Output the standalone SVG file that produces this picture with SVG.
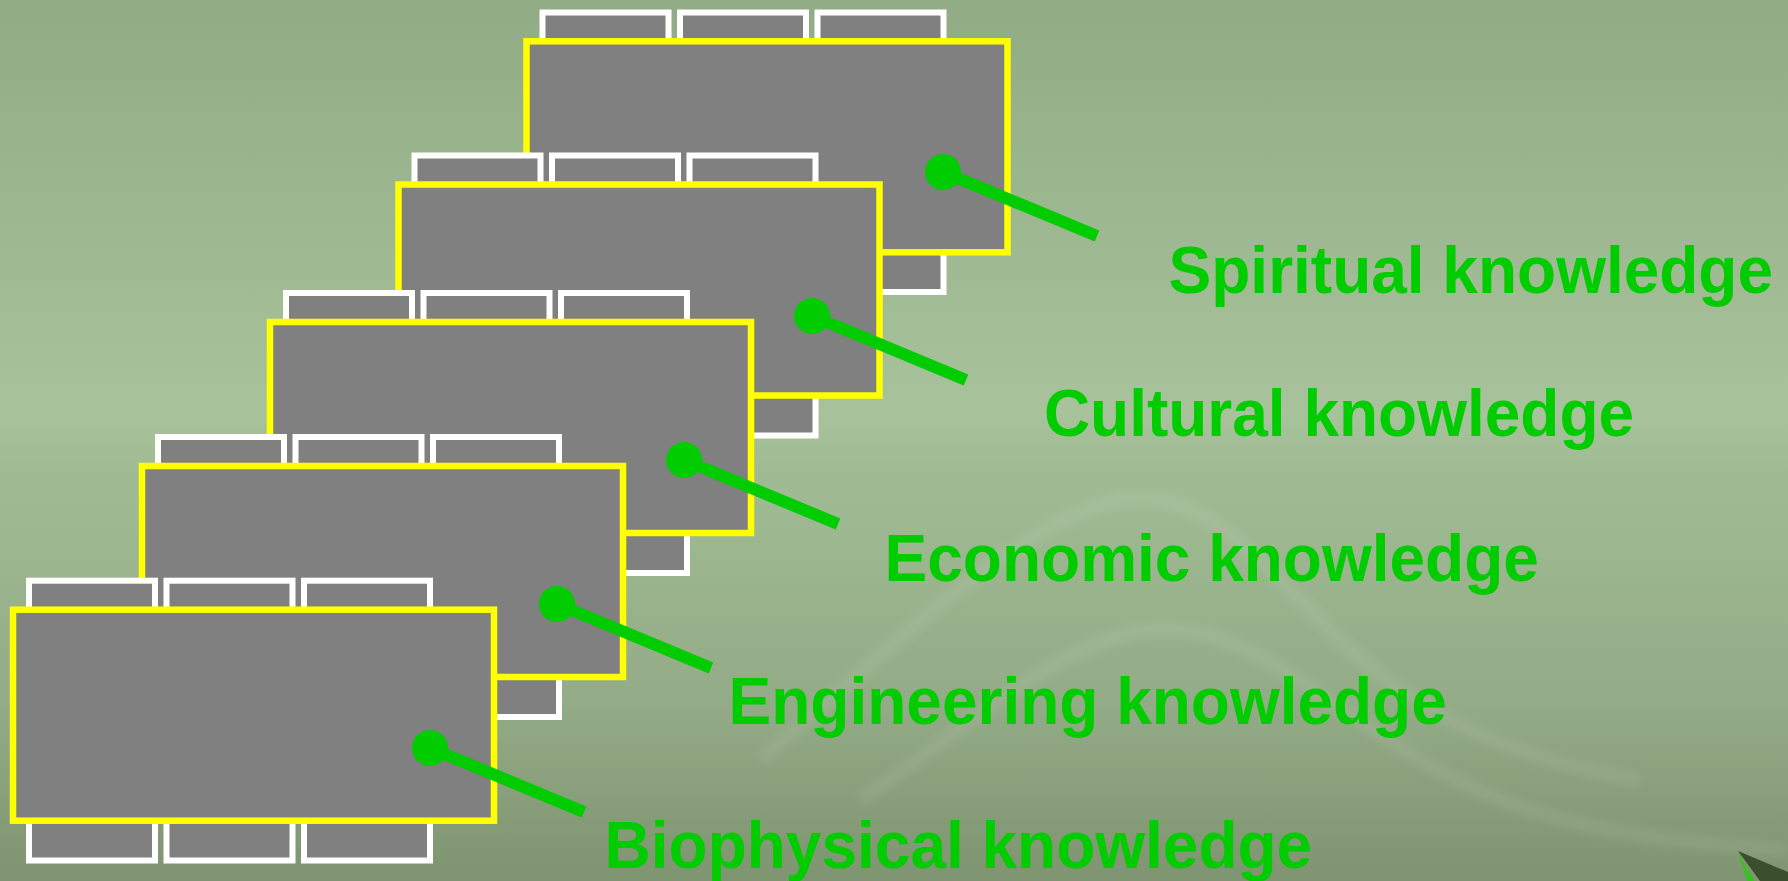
<svg xmlns="http://www.w3.org/2000/svg" width="1788" height="881" viewBox="0 0 1788 881">
  <defs>
    <linearGradient id="bg" x1="0" y1="0" x2="0" y2="1">
      <stop offset="0" stop-color="#91ab85"/>
      <stop offset="0.47" stop-color="#a8c39c"/>
      <stop offset="0.53" stop-color="#a1bc95"/>
      <stop offset="0.8" stop-color="#93ab86"/>
      <stop offset="1" stop-color="#7f9470"/>
    </linearGradient>
    <filter id="soft" x="-10%" y="-10%" width="120%" height="120%">
      <feGaussianBlur stdDeviation="4"/>
    </filter>
  </defs>
  <style>
    .chair { fill: #808080; stroke: #ffffff; stroke-width: 6; }
    .table { fill: #808080; stroke: #ffff00; stroke-width: 6.5; }
    .label { font-family: "Liberation Sans", Arial, sans-serif; font-weight: bold; font-size: 64px; fill: #00cc00; }
    .lead { stroke: #00cc00; stroke-width: 12; stroke-linecap: butt; fill: none; }
    .dot { fill: #00cc00; }
    .mtn { fill: none; stroke: #ffffff; stroke-opacity: 0.07; stroke-width: 14; filter: url(#soft); }
  </style>

  <rect x="0" y="0" width="1788" height="881" fill="url(#bg)"/>
  <g id="background">
    <path class="mtn" d="M 760 760 C 900 640 1020 520 1120 500 C 1200 485 1260 560 1340 640 C 1420 720 1520 760 1640 780"/>
    <path class="mtn" d="M 860 800 C 980 720 1060 640 1150 630 C 1240 620 1320 700 1420 760 C 1520 820 1620 840 1788 850"/>
    <path d="M 1738 851 L 1788 872 L 1788 881 L 1760 881 Z" fill="#3a4f2c"/>
    <path d="M 1738 853 L 1755 881 L 1747 881 Z" fill="#3cbf24"/>
  </g>

  <g id="card-spiritual">
    <rect class="chair" x="542.5" y="12.5" width="126" height="60"/>
    <rect class="chair" x="680" y="12.5" width="126" height="60"/>
    <rect class="chair" x="817.5" y="12.5" width="126" height="60"/>
    <rect class="chair" x="542.5" y="232" width="126" height="60"/>
    <rect class="chair" x="680" y="232" width="126" height="60"/>
    <rect class="chair" x="817.5" y="232" width="126" height="60"/>
    <rect class="table" x="526.5" y="41.3" width="481" height="211"/>
  </g>

  <g id="card-cultural">
    <rect class="chair" x="414.5" y="155.5" width="126" height="60"/>
    <rect class="chair" x="552" y="155.5" width="126" height="60"/>
    <rect class="chair" x="689.5" y="155.5" width="126" height="60"/>
    <rect class="chair" x="414.5" y="375.5" width="126" height="60"/>
    <rect class="chair" x="552" y="375.5" width="126" height="60"/>
    <rect class="chair" x="689.5" y="375.5" width="126" height="60"/>
    <rect class="table" x="398.5" y="184.5" width="481" height="211"/>
  </g>

  <g id="card-economic">
    <rect class="chair" x="286" y="293" width="126" height="60"/>
    <rect class="chair" x="423.5" y="293" width="126" height="60"/>
    <rect class="chair" x="561" y="293" width="126" height="60"/>
    <rect class="chair" x="286" y="513" width="126" height="60"/>
    <rect class="chair" x="423.5" y="513" width="126" height="60"/>
    <rect class="chair" x="561" y="513" width="126" height="60"/>
    <rect class="table" x="270" y="322" width="481" height="211"/>
  </g>

  <g id="card-engineering">
    <rect class="chair" x="158" y="437" width="126" height="60"/>
    <rect class="chair" x="295.5" y="437" width="126" height="60"/>
    <rect class="chair" x="433" y="437" width="126" height="60"/>
    <rect class="chair" x="158" y="657" width="126" height="60"/>
    <rect class="chair" x="295.5" y="657" width="126" height="60"/>
    <rect class="chair" x="433" y="657" width="126" height="60"/>
    <rect class="table" x="142" y="466" width="481" height="211"/>
  </g>

  <g id="card-biophysical">
    <rect class="chair" x="29" y="580.7" width="126" height="60"/>
    <rect class="chair" x="166.5" y="580.7" width="126" height="60"/>
    <rect class="chair" x="304" y="580.7" width="126" height="60"/>
    <rect class="chair" x="29" y="800.5" width="126" height="60"/>
    <rect class="chair" x="166.5" y="800.5" width="126" height="60"/>
    <rect class="chair" x="304" y="800.5" width="126" height="60"/>
    <rect class="table" x="13" y="609.7" width="481" height="211"/>
  </g>

  <g id="connectors">
    <line class="lead" x1="943" y1="172" x2="1097" y2="236"/>
    <circle class="dot" cx="943" cy="172" r="18"/>
    <line class="lead" x1="812" y1="316" x2="966" y2="380"/>
    <circle class="dot" cx="812" cy="316" r="18"/>
    <line class="lead" x1="684" y1="460" x2="838" y2="524"/>
    <circle class="dot" cx="684" cy="460" r="18"/>
    <line class="lead" x1="557" y1="604" x2="711" y2="668"/>
    <circle class="dot" cx="557" cy="604" r="18"/>
    <line class="lead" x1="430" y1="748" x2="584" y2="812"/>
    <circle class="dot" cx="430" cy="748" r="18"/>
  </g>

  <g id="label-spiritual"><text class="label" transform="translate(1168.6,292.7) scale(1,1.04)">Spiritual knowledge</text></g>
  <g id="label-cultural"><text class="label" transform="translate(1043.9,435.7) scale(1,1.04)">Cultural knowledge</text></g>
  <g id="label-economic"><text class="label" transform="translate(884.6,580.7) scale(1,1.04)">Economic knowledge</text></g>
  <g id="label-engineering"><text class="label" transform="translate(728.6,724) scale(1,1.04)">Engineering knowledge</text></g>
  <g id="label-biophysical"><text class="label" transform="translate(604.6,868.3) scale(1,1.04)">Biophysical knowledge</text></g>
</svg>
